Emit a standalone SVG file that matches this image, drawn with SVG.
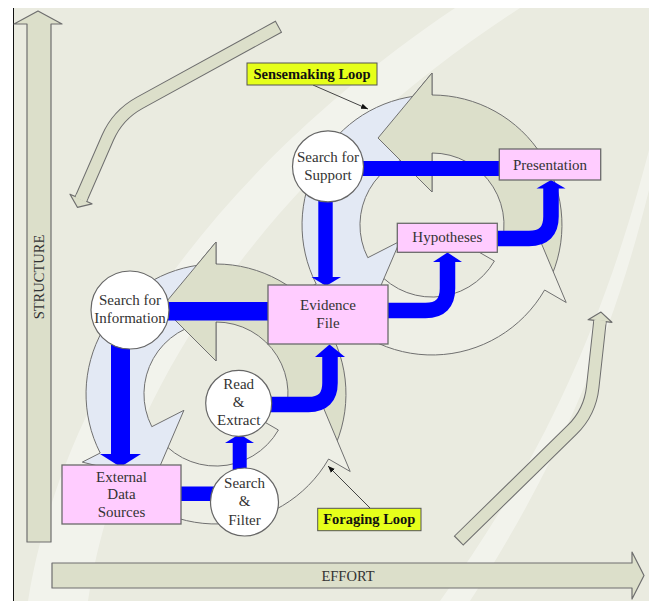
<svg xmlns="http://www.w3.org/2000/svg" width="649" height="601" viewBox="0 0 649 601">
<style>
.deco{fill:#DCDFCA;stroke:#6E6E6E;stroke-width:1.2;stroke-linejoin:round}
.ga{fill:#DCDFCA;stroke:#707070;stroke-width:1}
.la{fill:#EEEFE6;stroke:#707070;stroke-width:1}
.ba{fill:#E3E9F4;stroke:#707070;stroke-width:1}
.blue{fill:#0000FF}
.bline{fill:none;stroke:#0000FF;stroke-width:15.5}
.box{fill:#FFCCFF;stroke:#6A6A6A;stroke-width:1.3}
.circ{fill:#FFFFFF;stroke:#666666;stroke-width:1.2}
.t{font-family:"Liberation Serif","Times New Roman",serif;font-size:15px;fill:#333333;text-anchor:middle}
.ax{font-family:"Liberation Serif","Times New Roman",serif;font-size:14.5px;fill:#333333;text-anchor:middle}
.lbl{fill:#E6FF1A;stroke:#555555;stroke-width:1}
.lt{font-family:"Liberation Serif","Times New Roman",serif;font-size:14.5px;font-weight:bold;fill:#111111;text-anchor:middle}
.ptr{stroke:#444444;stroke-width:1;fill:none}
.so{fill:none;stroke:#6E6E6E;stroke-width:13.5;stroke-linejoin:round}
.si{fill:none;stroke:#DCDFCA;stroke-width:11.5;stroke-linejoin:round}
</style>
<defs>
<marker id="ah" viewBox="0 0 10 10" refX="10" refY="5" markerWidth="7" markerHeight="7" markerUnits="userSpaceOnUse" orient="auto">
<path d="M0,1 L10,5 L0,9 Z" fill="#111111"/>
</marker>
<clipPath id="gh" clipPathUnits="userSpaceOnUse"><rect x="-60" y="-156" width="61" height="128"/></clipPath>
<g id="loop">
<path class="ga" d="M116.8,57 A130,130 0 0 0 0,-130 L0,-152 L-54,-87 L0,-33 L0,-72 A72,72 0 0 1 64.7,31.6 Z"/>
<path class="la" d="M-109,70.8 A130,130 0 0 0 112.6,65 L134.2,77.5 L105,8 L31.2,18 L62.4,36 A72,72 0 0 1 -60.4,39.2 Z"/>
<path class="ba" d="M-9.1,-129.7 A130,130 0 0 0 -115.8,59 L-133.7,68.1 L-62,86 L-32.1,16.3 L-64.2,32.7 A72,72 0 0 1 -5,-71.8 Z"/>
<path class="ga" clip-path="url(#gh)" d="M116.8,57 A130,130 0 0 0 0,-130 L0,-152 L-54,-87 L0,-33 L0,-72 A72,72 0 0 1 64.7,31.6 Z"/>
</g>
</defs>

<g id="background">
<rect x="0" y="0" width="649" height="601" fill="#FFFFFF"/>
<rect x="13" y="8" width="636" height="593" fill="#EAEBE0"/>
<path d="M28,601 C55,430 170,200 455,8 L520,8 C240,190 115,420 88,601 Z" fill="#FFFFFF" opacity="0.4"/>
<path d="M440,601 C520,490 595,360 649,150 L649,190 C605,370 535,500 470,601 Z" fill="#FFFFFF" opacity="0.4"/>
<line x1="13.5" y1="8" x2="13.5" y2="601" stroke="#111111" stroke-width="1"/>
</g>

<g id="structure-axis">
<polygon class="deco" points="27,542 27,24 14,24 38,11 62,24 51,24 51,542"/>
<text class="ax" transform="translate(43.5,277) rotate(-90)">STRUCTURE</text>
</g>

<g id="effort-axis">
<polygon class="deco" points="52,563 632,563 632,552 644,575.5 632,599 632,588 52,588"/>
<text class="ax" x="348" y="581">EFFORT</text>
</g>

<g id="down-arrow">
<path class="so" d="M278.9,26.5 L278,27 L139.6,102.9 Q117.7,114.9 107.7,137.8 L81,199"/>
<path class="si" d="M278,27 L139.6,102.9 Q117.7,114.9 107.7,137.8 L81,199"/>
<polygon class="deco" points="70,194.2 77.4,207.3 92,203.8"/>
<path class="si" d="M82.2,196.2 L80.6,199.9"/>
</g>

<g id="up-arrow">
<path class="so" d="M458.5,540.9 L459.2,540.2 L572.2,429.7 Q590,412.2 592.7,387.3 L600,321"/>
<path class="si" d="M459.2,540.2 L572.2,429.7 Q590,412.2 592.7,387.3 L600,321"/>
<polygon class="deco" points="588.1,319.7 601,312.1 611.9,322.3"/>
<path class="si" d="M599.7,324 L600.1,320"/>
</g>

<g id="foraging-loop"><use href="#loop" transform="translate(216,394)"/></g>
<g id="sensemaking-loop"><use href="#loop" transform="translate(432,225)"/></g>

<g id="connectors">
<rect class="blue" x="165" y="302" width="105" height="18.5"/>
<rect class="blue" x="111" y="345" width="19" height="110"/>
<polygon class="blue" points="100,454 141,454 120.5,467"/>
<rect class="blue" x="178" y="486.5" width="38" height="14.5"/>
<rect class="blue" x="232.7" y="442" width="14" height="30"/>
<polygon class="blue" points="225,443 254,443 239.5,434"/>
<path class="bline" d="M266,404.5 H308.5 Q330,404.5 330,383 V356"/>
<polygon class="blue" points="315,357 345,357 329.5,344.5"/>
<rect class="blue" x="360" y="161" width="141" height="15"/>
<rect class="blue" x="318.3" y="198" width="14.4" height="80"/>
<polygon class="blue" points="311.5,277 341,277 326,286"/>
<path class="bline" d="M386,310.5 H425.5 Q447.5,310.5 447.5,288.5 V261"/>
<polygon class="blue" points="433,262 462,262 447.5,252.5"/>
<path class="bline" d="M495,238.5 H529 Q551,238.5 551,216.5 V188"/>
<polygon class="blue" points="536.5,188.5 565.5,188.5 551,180"/>
</g>

<g id="search-for-information">
<circle class="circ" cx="130" cy="310" r="39"/>
<text class="t" x="130" y="305">Search for</text>
<text class="t" x="130" y="323">Information</text>
</g>

<g id="external-data-sources">
<rect class="box" x="62" y="465" width="119" height="59"/>
<text class="t" x="121.5" y="481.5">External</text>
<text class="t" x="121.5" y="499">Data</text>
<text class="t" x="121.5" y="517">Sources</text>
</g>

<g id="search-filter">
<circle class="circ" cx="244.5" cy="502" r="34"/>
<text class="t" x="244.5" y="488">Search</text>
<text class="t" x="244.5" y="506">&amp;</text>
<text class="t" x="244.5" y="524.5">Filter</text>
</g>

<g id="read-extract">
<circle class="circ" cx="238.7" cy="403.3" r="33"/>
<text class="t" x="238.7" y="389">Read</text>
<text class="t" x="238.7" y="407">&amp;</text>
<text class="t" x="238.7" y="425">Extract</text>
</g>

<g id="evidence-file">
<rect class="box" x="268" y="285" width="120" height="59"/>
<text class="t" x="328" y="310">Evidence</text>
<text class="t" x="328" y="327.5">File</text>
</g>

<g id="search-for-support">
<circle class="circ" cx="328" cy="166.4" r="35.5"/>
<text class="t" x="328" y="162">Search for</text>
<text class="t" x="328" y="180">Support</text>
</g>

<g id="presentation">
<rect class="box" x="499.3" y="149" width="101.4" height="31"/>
<text class="t" x="550" y="169.5">Presentation</text>
</g>

<g id="hypotheses">
<rect class="box" x="397.3" y="223.3" width="100" height="29"/>
<text class="t" x="447.3" y="242">Hypotheses</text>
</g>

<g id="sensemaking-label">
<line class="ptr" x1="313" y1="85" x2="368" y2="109" marker-end="url(#ah)"/>
<rect class="lbl" x="247" y="63" width="130" height="22"/>
<text class="lt" x="312" y="78.5">Sensemaking Loop</text>
</g>

<g id="foraging-label">
<line class="ptr" x1="370" y1="508" x2="328" y2="466" marker-end="url(#ah)"/>
<rect class="lbl" x="317.7" y="508.3" width="103.3" height="22.4"/>
<text class="lt" x="369.3" y="524">Foraging Loop</text>
</g>
</svg>
